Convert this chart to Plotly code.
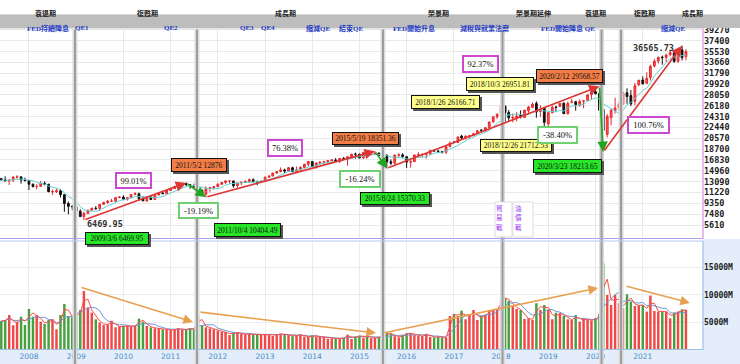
import plotly.graph_objects as go
import pandas as pd

# ---------------- data (monthly Dow Jones, 2007-06 .. 2021-12) ----------------
months = pd.date_range("2007-06-01", "2021-12-01", freq="MS")

dow_open = [
    13627, 13409, 13211, 13357, 13895, 13928, 13369,
    13262, 12652, 12262, 12264, 12821, 12638, 11347, 11379, 11516, 10847, 9326, 8829,
    8772, 7996, 7063, 7609, 8168, 8501, 8447, 9172, 9497, 9712, 9713, 10344,
    10430, 10068, 10326, 10857, 11008, 10137, 9773, 10468, 10016, 10789, 11120, 11007,
    11577, 11891, 12226, 12321, 12811, 12570, 12414, 12144, 11613, 10913, 11955, 12046,
    12218, 12632, 12952, 13212, 13214, 12392, 12879, 13008, 13091, 13437, 13099, 13027,
    13104, 13861, 14054, 14580, 14840, 15116, 14910, 15500, 14810, 15132, 15547, 16086,
    16572, 15698, 16321, 16458, 16581, 16716, 16827, 16561, 17099, 17041, 17390, 17828,
    17823, 17169, 18135, 17778, 17840, 18011, 17638, 17690, 16528, 16285, 17664, 17719,
    17405, 16452, 16545, 17662, 17783, 17754, 17924, 18434, 18395, 18282, 18158, 19149,
    19873, 19848, 20957, 20665, 20962, 21030, 21392, 21961, 21982, 22423, 23442, 24305,
    24809, 26084, 25025, 24076, 24117, 24542, 24161, 25333, 25917, 26598, 25209, 25780,
    23059, 24999, 25963, 26075, 26640, 24820, 26818, 26879, 26355, 26962, 27118, 28109,
    28639, 28320, 25590, 21227, 24120, 25342, 25880, 26469, 28439, 27940, 26925, 29823,
    30627, 30054, 31065, 33054, 33904, 34584, 34507, 34991, 35312, 33880, 35834, 34678,
]
dow_high = [
    13692, 14022, 13468, 14000, 14198, 13931, 13781,
    13280, 12767, 12622, 13192, 13136, 12724, 11735, 11867, 11790, 10882, 9654, 9026,
    9088, 8315, 7924, 8258, 8588, 8878, 9245, 9630, 9918, 10120, 10411, 10580,
    10729, 10405, 10954, 11258, 11205, 10595, 10580, 10720, 10948, 11245, 11452, 11625,
    12021, 12391, 12420, 12810, 12876, 12570, 12753, 12285, 11717, 12284, 12188, 12330,
    12842, 13056, 13290, 13338, 13280, 12898, 13108, 13330, 13653, 13662, 13290, 13361,
    13970, 14150, 14586, 14888, 15542, 15341, 15635, 15658, 15710, 15723, 16174, 16588,
    16588, 16398, 16588, 16632, 16735, 16978, 17151, 17153, 17350, 17395, 17895, 18103,
    17951, 18244, 18289, 18175, 18351.36, 18137, 18137, 17716, 16933, 17800, 17978, 17987,
    17405, 16799, 17790, 18168, 17934, 18017, 18622, 18668, 18450, 18400, 19152, 19987,
    20125, 20851, 21169, 21070, 21113, 21535, 21929, 22179, 22420, 23485, 24327, 24876,
    26616.71, 26307, 25449, 24858, 25086, 25403, 25529, 26168, 26770, 26951.81, 26278, 25980,
    25076, 26242, 26156, 26696, 26779, 26907, 27398, 27038, 27307, 27146, 28175, 28702,
    29374, 29568.57, 27102, 24765, 25758, 27581, 26842, 28659, 29199, 28903, 30117, 30637,
    31272, 31962, 33259, 34257, 34712, 34849, 35172, 35631, 35510, 35893, 36565.73, 35950,
]
dow_low = [
    13266, 13237, 12518, 13029, 13624, 12743, 13181,
    11634, 12069, 11731, 12211, 12442, 11287, 10827, 11128, 10365, 7882, 7449, 8149,
    7909, 7093, 6469.95, 7468, 8033, 8223, 8087, 9055, 9253, 9647, 9678, 10234,
    10036, 9835, 10276, 10854, 9774, 9758, 9614, 9936, 10015, 10711, 11011, 11004,
    11577, 11859, 11555, 12093, 12286, 11862, 12093, 10605, 10597, 10404.49, 11231, 11735,
    12218, 12619, 12715, 12710, 12036, 12035, 12492, 12878, 12978, 13029, 12471, 12883,
    13104, 13784, 14049, 14395, 14687, 14551, 14910, 14760, 14777, 14719, 15477, 15703,
    15690, 15341, 16015, 16015, 16334, 16632, 16562, 16333, 16945, 15855, 17180, 17068,
    17136, 17038, 17585, 17692, 17732, 17596, 17400, 15370.33, 15942, 16013, 17343, 17128,
    15450, 15503, 16545, 17484, 17331, 17063, 17713, 18247, 18009, 17960, 17884, 19001,
    19677, 19831, 20413, 20379, 20554, 20996, 21279, 21600, 21709, 22416, 23242, 23922,
    24741, 23360, 23509, 23344, 23531, 23997, 24077, 24965, 25773, 24123, 24268, 21712.53,
    22638, 24884, 25208, 26075, 24815, 24680, 26587, 25339, 25978, 25743, 27081, 27325,
    28170, 24681, 18213.65, 20735, 22790, 24843, 25305, 26316, 26537, 26144, 26270, 29549,
    29857, 29991, 30547, 32777, 33473, 33271, 33741, 34686, 33614, 33613, 34006, 34006,
]
dow_close = [
    13408, 13212, 13358, 13896, 13930, 13372, 13265,
    12650, 12266, 12263, 12820, 12638, 11350, 11378, 11544, 10851, 9325, 8829, 8776,
    8001, 7063, 7609, 8168, 8500, 8447, 9172, 9496, 9712, 9713, 10345, 10428,
    10067, 10325, 10857, 11009, 10137, 9774, 10466, 10015, 10788, 11118, 11006, 11578,
    11892, 12226, 12320, 12811, 12570, 12414, 12143, 11614, 10913, 11955, 12046, 12218,
    12633, 12952, 13212, 13214, 12393, 12880, 13009, 13091, 13437, 13096, 13026, 13104,
    13861, 14054, 14579, 14840, 15116, 14910, 15500, 14810, 15130, 15546, 16086, 16577,
    15699, 16322, 16458, 16581, 16717, 16827, 16563, 17098, 17043, 17391, 17828, 17823,
    17165, 18133, 17776, 17841, 18011, 17620, 17690, 16528, 16285, 17664, 17720, 17425,
    16466, 16517, 17685, 17774, 17787, 17930, 18432, 18401, 18308, 18142, 19124, 19763,
    19864, 20812, 20663, 20941, 21009, 21350, 21891, 21948, 22405, 23377, 24272, 24719,
    26149, 25029, 24103, 24163, 24416, 24271, 25415, 25965, 26458, 25116, 25538, 23327,
    25000, 25916, 25929, 26593, 24815, 26600, 26864, 26403, 26917, 27046, 28051, 28538,
    28256, 25409, 21917, 24346, 25383, 25813, 26428, 28430, 27782, 26502, 29639, 30606,
    29983, 30932, 32982, 33875, 34529, 34503, 34935, 35361, 33844, 35820, 34484, 35550,
]
volume_m = [
    5270, 5450, 6360, 4490, 5150, 6050, 4540,
    7450, 6050, 6360, 5150, 4730, 5450, 5580, 3760, 6360, 8360, 6170, 5940,
    6360, 7270, 10700, 7760, 6780, 5580, 4970, 4540, 4720, 5330, 4120, 4360,
    4360, 4360, 4360, 4360, 5700, 5150, 4360, 4120, 3940, 3940, 3760, 3640,
    3640, 3760, 3940, 3640, 3760, 3940, 3760, 6540, 4540, 4120, 3940, 3760,
    3520, 3330, 3270, 2730, 3150, 3150, 2910, 2850, 2900, 2800, 2850, 2800,
    2750, 2700, 2550, 2900, 2950, 2850, 2700, 2500, 2650, 2850, 2450, 2350,
    2700, 2450, 2400, 2300, 2050, 2100, 2100, 2050, 2250, 2800, 2000, 2500,
    2600, 2250, 2600, 2150, 2200, 2400, 2350, 3200, 2900, 2500, 2300, 2750,
    3050, 3050, 2700, 2550, 2500, 2950, 2400, 2300, 2450, 2250, 2300, 6180,
    6545, 6180, 7150, 5580, 6545, 7270, 5450, 6180, 6360, 7270, 7390, 7390,
    9200, 9500, 8960, 8050, 7450, 7270, 5630, 5750, 5450, 8490, 7270, 8180,
    7270, 5580, 6780, 6540, 6180, 5580, 5450, 6360, 5150, 5750, 5450, 5330,
    5800, 6600, 15750, 10000, 8180, 10000, 8480, 7570, 10120, 8790, 8000, 8180,
    8180, 6970, 9880, 7090, 6970, 6970, 6970, 5760, 6790, 6970, 7390, 7270,
]

# turning points joined by the red / green trend arrows
turn_dates = ["2009-03-01", "2011-05-01", "2011-10-01", "2015-05-01",
              "2015-08-01", "2020-02-01", "2020-03-01", "2021-11-01"]
turn_values = [6469.95, 12876, 10404.49, 18351.36, 15370.33, 29568.57, 18213.65, 36565.73]

# volume trend arrows (start date, start value, end date, end value) in M
vol_arrow_start_dates = ["2009-01-30", "2011-08-08", "2015-07-02", "2020-08-17"]
vol_arrow_start_vals = [11450, 6910, 3090, 11640]
vol_arrow_end_dates = ["2011-06-23", "2015-05-09", "2020-01-21", "2022-01-01"]
vol_arrow_end_vals = [5090, 3090, 11270, 8545]

# event marker dates (thick grey verticals)
event_dates = ["2008-12-22", "2011-07-24", "2015-07-02", "2018-01-12", "2020-02-17", "2020-07-17"]

period_labels = ["衰退期", "復甦期", "成長期", "榮景期", "榮景期延伸", "衰退期", "復甦期", "成長期"]
policy_labels = ["FED持續降息", "QE1", "QE2", "QE3", "QE4", "縮減QE", "結束QE",
                 "FED開始升息", "減稅與就業法案", "FED開始降息 QE", "縮減QE"]
war_labels = ["貿易戰", "油價戰"]

value_box_texts = ["2009/3/6 6469.95", "2011/5/2 12876", "2011/10/4 10404.49",
                   "2015/5/19 18351.36", "2015/8/24 15370.33", "2018/1/26 26166.71",
                   "2018/10/3 26951.81", "2020/2/12 29568.57", "2018/12/26 21712.53",
                   "2020/3/23 18213.65"]
value_box_kind = ["low", "high", "low", "high", "low", "mid", "mid", "high", "mid", "low"]

pct_texts = ["99.01%", "-19.19%", "76.38%", "-16.24%", "92.37%", "-38.40%", "100.76%"]

price_ticks = [5610 + 1870 * i for i in range(19)]
price_tick_text = [str(v) for v in price_ticks]
vol_ticks = [5000, 10000, 15000]
vol_tick_text = ["5000M", "10000M", "15000M"]
year_labels = [str(y) for y in range(2008, 2022)]
year_ticks = ["%s-01-01" % y for y in year_labels]

# ---------------- derived ----------------
ma6 = pd.Series(dow_close).rolling(6, min_periods=1).mean()
vma2 = pd.Series(volume_m).rolling(2, min_periods=1).mean()
vma5 = pd.Series(volume_m).rolling(5, min_periods=1).mean()
vol_colors = ["#f04848" if c >= o else "#47a03e" for o, c in zip(dow_open, dow_close)]

# ---------------- geometry helpers (pixel -> paper) ----------------
PW, PB, PH = 703.0, 350.0, 322.0


def px(x):
    return x / PW


def py(y):
    return (PB - y) / PH


XR = ["2007-05-22", "2022-04-12"]

fig = go.Figure()

fig.add_trace(go.Candlestick(
    x=months, open=dow_open, high=dow_high, low=dow_low, close=dow_close,
    increasing=dict(line=dict(color="#e8262b", width=1), fillcolor="#ff5a5a"),
    decreasing=dict(line=dict(color="#111111", width=1), fillcolor="#111111"),
    whiskerwidth=0, xaxis="x", yaxis="y", showlegend=False, hoverinfo="skip"))
fig.add_trace(go.Scatter(x=months, y=ma6, mode="lines", line=dict(color="#63d0d0", width=1),
                         xaxis="x", yaxis="y", showlegend=False, hoverinfo="skip"))

fig.add_trace(go.Bar(x=months, y=volume_m, marker=dict(color=vol_colors, line=dict(width=0)),
                     xaxis="x2", yaxis="y2", showlegend=False, hoverinfo="skip"))
fig.add_trace(go.Scatter(x=months, y=vma5, mode="lines", line=dict(color="#6a98d8", width=1),
                         xaxis="x2", yaxis="y2", showlegend=False, hoverinfo="skip"))
fig.add_trace(go.Scatter(x=months, y=vma2, mode="lines", line=dict(color="#ff4a4a", width=1),
                         xaxis="x2", yaxis="y2", showlegend=False, hoverinfo="skip"))

shapes = []
LB = "#e3eefa"
# light-blue backgrounds (bottom band & right of volume panel)
shapes.append(dict(type="rect", xref="paper", yref="paper", x0=-0.01, x1=1.06, y0=py(364), y1=py(350),
                   fillcolor=LB, line=dict(width=0), layer="below"))
shapes.append(dict(type="rect", xref="paper", yref="paper", x0=1.0, x1=1.06, y0=py(364), y1=py(239),
                   fillcolor=LB, line=dict(width=0), layer="below"))
# event verticals
for d in event_dates:
    shapes.append(dict(type="line", xref="x", yref="paper", x0=d, x1=d, y0=py(364), y1=py(28),
                       line=dict(color="#dcdcdc", width=5), layer="above"))
    shapes.append(dict(type="line", xref="x", yref="paper", x0=d, x1=d, y0=py(364), y1=py(28),
                       line=dict(color="#9c9c9c", width=2), layer="above"))
# panel frames
shapes.append(dict(type="line", xref="paper", yref="paper", x0=0, x1=1, y0=py(238.5), y1=py(238.5),
                   line=dict(color="#aaa2ea", width=1)))
shapes.append(dict(type="line", xref="paper", yref="paper", x0=1, x1=1, y0=py(239), y1=py(28),
                   line=dict(color="#e2a4e6", width=1.5)))
shapes.append(dict(type="line", xref="paper", yref="paper", x0=0, x1=1, y0=py(241), y1=py(241),
                   line=dict(color="#b4c8ec", width=1)))
shapes.append(dict(type="line", xref="paper", yref="paper", x0=1, x1=1, y0=py(350), y1=py(241),
                   line=dict(color="#9ec0e6", width=1.2)))
shapes.append(dict(type="line", xref="paper", yref="paper", x0=0, x1=1, y0=py(349.5), y1=py(349.5),
                   line=dict(color="#9ec0e6", width=1)))
# grey band on top
shapes.append(dict(type="rect", xref="paper", yref="paper", x0=-0.01, x1=1.06, y0=py(28), y1=py(14),
                   fillcolor="#bdbdbd", line=dict(width=0), layer="above"))
shapes.append(dict(type="line", xref="paper", yref="paper", x0=-0.01, x1=1.06, y0=py(14.5), y1=py(14.5),
                   line=dict(color="#d6d6d6", width=1), layer="above"))
shapes.append(dict(type="line", xref="paper", yref="paper", x0=-0.01, x1=1.0, y0=py(28.8), y1=py(28.8),
                   line=dict(color="#e4e4e4", width=1.5), layer="above"))

ann = []
CJK = "Noto Sans CJK TC"
SERIF = "Liberation Serif, Noto Sans CJK TC"

# period labels (top white strip)
period_x = [33, 135, 285, 438, 553, 608, 657, 705]
for t, x in zip(period_labels, period_x):
    ann.append(dict(text="<b>%s</b>" % t, x=px(x), y=py(7.5), xref="paper", yref="paper",
                    showarrow=False, font=dict(family=SERIF, size=7, color="#222222")))
# policy labels (grey band)
policy_x = [25, 73, 162, 247, 268, 318, 351, 414, 511, 597, 687]
for t, x in zip(policy_labels, policy_x):
    ann.append(dict(text="<b>%s</b>" % t, x=px(x), y=py(21.5), xref="paper", yref="paper",
                    showarrow=False, font=dict(family=SERIF, size=7, color="#1f3cc4")))

# price trend arrows
for i in range(len(turn_dates) - 1):
    up = turn_values[i + 1] > turn_values[i]
    ann.append(dict(x=turn_dates[i + 1], y=turn_values[i + 1], ax=turn_dates[i], ay=turn_values[i],
                    xref="x", yref="y", axref="x", ayref="y", text="", showarrow=True,
                    arrowhead=2, arrowsize=1.3, arrowwidth=1.6, standoff=0,
                    arrowcolor="#de3535" if up else "#21a521"))
# volume trend arrows
for sd, sv, ed, ev in zip(vol_arrow_start_dates, vol_arrow_start_vals, vol_arrow_end_dates, vol_arrow_end_vals):
    ann.append(dict(x=ed, y=ev, ax=sd, ay=sv, xref="x2", yref="y2", axref="x2", ayref="y2",
                    text="", showarrow=True, arrowhead=2, arrowsize=1.2, arrowwidth=1.6,
                    standoff=0, arrowcolor="#e8a050"))

# value boxes
box_pos = [(85, 238, 64, 13), (171, 165, 56, 14), (214, 230, 67, 14), (365, 138, 67, 13),
           (395, 198, 70, 13), (480, 95, 69, 14), (534, 77, 68, 14), (603, 69, 67, 14),
           (552, 145, 72, 13), (602, 166, 69, 14)]
box_bg = {"low": "#27e627", "high": "#f27d45", "mid": "#ffff8c"}
for (x, y, w, h) in box_pos:
    ann.append(dict(text=" ", x=px(x), y=py(y), xref="paper", yref="paper", showarrow=False,
                    xshift=2, yshift=-2, width=w - 2, height=h - 2, borderpad=0, borderwidth=1,
                    bgcolor="#555555", bordercolor="#555555"))
for t, k, (x, y, w, h) in zip(value_box_texts, value_box_kind, box_pos):
    ann.append(dict(text=t, x=px(x), y=py(y), xref="paper", yref="paper", showarrow=False,
                    width=w - 2, height=h - 2, borderpad=0, borderwidth=1, bgcolor=box_bg[k],
                    bordercolor="#111111", font=dict(family="Liberation Serif", size=7.5, color="#111111")))

# percentage boxes
pct_pos = [(115, 181, 37, 17), (178, 210, 41, 17), (285, 148, 36, 18), (360, 179, 42, 18),
           (499, 55, 37, 18), (578, 126, 41, 18), (670, 116, 43, 18)]
for t, (x, y, w, h) in zip(pct_texts, pct_pos):
    neg = t.startswith("-")
    ann.append(dict(text=t, x=px(x), y=py(y), xref="paper", yref="paper", showarrow=False,
                    width=w - 4, height=h - 4, borderpad=0, borderwidth=2, bgcolor="#ffffff",
                    bordercolor="#6fd06f" if neg else "#cc48d2",
                    font=dict(family="Liberation Serif", size=8.5, color="#111111")))

# plain value labels
ann.append(dict(text="6469.95", x=px(85), y=py(224), xref="paper", yref="paper", showarrow=False,
                font=dict(family="DejaVu Sans Mono", size=8.5, color="#333333", weight="bold")))
ann.append(dict(text="36565.73", x=px(676), y=py(41), xref="paper", yref="paper", showarrow=False,
                font=dict(family="DejaVu Sans Mono", size=8.5, color="#333333", weight="bold")))

# vertical trade-war / oil-price-war notes (one character per line)
for t, x, x0, x1 in zip(war_labels, [504, 523], [495, 513], [512, 533]):
    shapes.append(dict(type="rect", xref="paper", yref="paper", x0=px(x0), x1=px(x1),
                       y0=py(237), y1=py(202), fillcolor="#ffffff",
                       line=dict(color="#dddddd", width=1)))
    for j, ch in enumerate(t):
        ann.append(dict(text=ch, x=px(x), y=py(208.5 + 9 * j), xref="paper", yref="paper",
                        showarrow=False, borderpad=0,
                        font=dict(family=CJK, size=6.5, color="#9a32f0")))

fig.update_layout(
    template="none",
    width=740, height=364,
    margin=dict(l=0, r=37, t=28, b=14, pad=0, autoexpand=False),
    paper_bgcolor="#ffffff", plot_bgcolor="#ffffff",
    showlegend=False, bargap=0.32,
    xaxis=dict(domain=[0, 1], anchor="y", range=XR, type="date", showticklabels=False,
               tickvals=year_ticks, showgrid=True, gridcolor="#e9e9e9",
               zeroline=False, showline=False, automargin=False, rangeslider=dict(visible=False)),
    xaxis2=dict(domain=[0, 1], anchor="y2", range=XR, type="date", matches="x",
                tickvals=year_ticks, ticktext=year_labels, ticks="",
                tickfont=dict(family="DejaVu Sans", size=7.5, color="#4a8cc8"),
                showgrid=True, gridcolor="#ececec", zeroline=False, showline=False,
                automargin=False, rangeslider=dict(visible=False)),
    yaxis=dict(domain=[py(239), 1], anchor="x", side="right", range=[3194, 39609],
               tickvals=price_ticks, ticktext=price_tick_text, ticks="", showgrid=True,
               gridcolor="#e9e9e9", zeroline=False, showline=False, automargin=False,
               tickfont=dict(family="DejaVu Sans Mono", size=8.5, color="#222222", weight="bold")),
    yaxis2=dict(domain=[0, py(241)], anchor="x2", side="right", range=[0, 19800],
                tickvals=vol_ticks, ticktext=vol_tick_text, ticks="", showgrid=True,
                gridcolor="#ececec", zeroline=False, showline=False, automargin=False,
                tickfont=dict(family="DejaVu Sans Mono", size=8, color="#222222", weight="bold")),
    shapes=shapes, annotations=ann,
)

fig.write_html("out.html", config={"displayModeBar": False, "staticPlot": True},
               post_script="document.body.style.margin='0px';")
